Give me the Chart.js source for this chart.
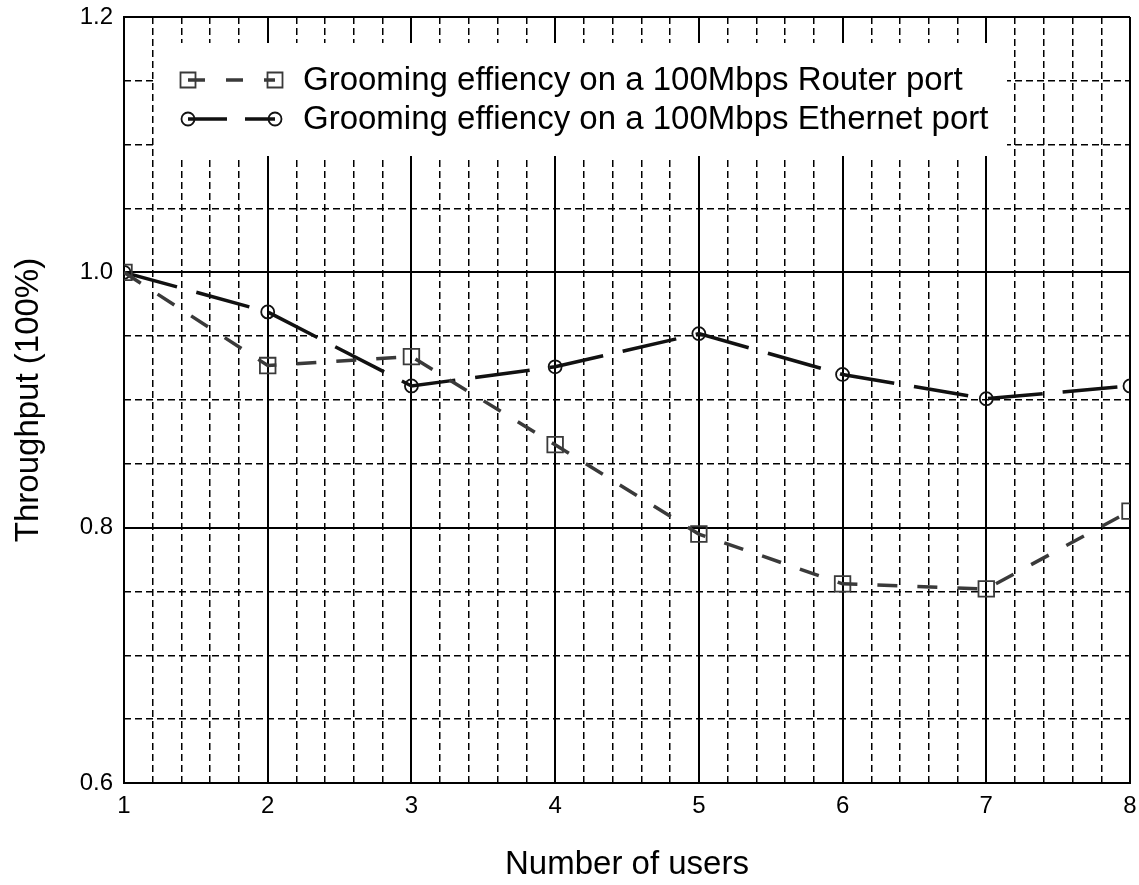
<!DOCTYPE html>
<html>
<head>
<meta charset="utf-8">
<script src="https://cdn.jsdelivr.net/npm/chart.js@4.4.1/dist/chart.umd.min.js"></script>
<style>
  html, body { margin: 0; padding: 0; background: #fff; }
  #wrap { width: 1139px; height: 885px; }
</style>
</head>
<body>
<div id="wrap"><canvas id="chart" width="1139" height="885"></canvas></div>
<script>
// data
var users = [1, 2, 3, 4, 5, 6, 7, 8];
var routerPort = [1.0, 0.927, 0.934, 0.865, 0.795, 0.756, 0.752, 0.813];
var ethernetPort = [1.0, 0.969, 0.911, 0.926, 0.952, 0.920, 0.901, 0.911];
var seriesNames = [
    'Grooming effiency on a 100Mbps Router port',
    'Grooming effiency on a 100Mbps Ethernet port'
];
var yTicks = [0.6, 0.8, 1.0, 1.2];

var FONT = "'Liberation Sans', Arial, sans-serif";

function toPoints(xs, ys) {
    return xs.map(function (x, i) { return { x: x, y: ys[i] }; });
}

// white legend box drawn inside the plot, like the original
var boxLegend = {
    id: 'boxLegend',
    beforeDatasetsDraw: function (chart) {
        var ctx = chart.ctx;
        var a = chart.chartArea;
        var x0 = a.left + 31, y0 = a.top + 26;
        ctx.save();
        ctx.fillStyle = '#ffffff';
        ctx.fillRect(x0, y0, 852, 113);

        var rows = [
            { y: y0 + 37, color: '#3a3a3a', dash: [17, 21], style: 'rect' },
            { y: y0 + 76, color: '#111111', dash: [39, 18], style: 'circle' }
        ];
        rows.forEach(function (r, i) {
            var xa = x0 + 33, xb = x0 + 120;
            ctx.strokeStyle = r.color;
            ctx.lineWidth = 3.5;
            ctx.setLineDash(r.dash);
            ctx.beginPath();
            ctx.moveTo(xa, r.y);
            ctx.lineTo(xb, r.y);
            ctx.stroke();
            ctx.setLineDash([]);
            ctx.lineWidth = 1.8;
            [xa, xb].forEach(function (px) {
                ctx.beginPath();
                if (r.style === 'rect') {
                    ctx.rect(px - 7.5, r.y - 7.5, 15, 15);
                } else {
                    ctx.arc(px, r.y, 6.5, 0, Math.PI * 2);
                }
                ctx.stroke();
            });
            ctx.fillStyle = '#000';
            ctx.font = '33px ' + FONT;
            ctx.textBaseline = 'middle';
            ctx.textAlign = 'left';
            ctx.fillText(seriesNames[i], x0 + 148, r.y + 1);
        });
        ctx.restore();
    }
};

function onMajor(v, step) {
    var k = v / step;
    return Math.abs(k - Math.round(k)) < 1e-6;
}

// fixed axis sizes, no extra room for overhanging labels
function fixSize(w, h) {
    return function (s) {
        if (w !== null) s.width = w;
        if (h !== null) s.height = h;
        s.paddingTop = 0;
        s.paddingBottom = 0;
        s.paddingLeft = 0;
        s.paddingRight = 0;
    };
}

var ctx = document.getElementById('chart').getContext('2d');
new Chart(ctx, {
    type: 'line',
    data: {
        datasets: [{
            label: seriesNames[0],
            data: toPoints(users, routerPort),
            xAxisID: 'x',
            yAxisID: 'y',
            borderColor: '#3a3a3a',
            borderWidth: 3.5,
            borderDash: [20, 20],
            pointStyle: 'rect',
            pointRadius: 11,
            pointBorderWidth: 1.8,
            pointBorderColor: '#3a3a3a',
            pointBackgroundColor: 'rgba(0,0,0,0)',
            tension: 0,
            clip: 0
        }, {
            label: seriesNames[1],
            data: toPoints(users, ethernetPort),
            xAxisID: 'x',
            yAxisID: 'y',
            borderColor: '#111111',
            borderWidth: 3.5,
            borderDash: [55, 20],
            pointStyle: 'circle',
            pointRadius: 6.5,
            pointBorderWidth: 1.8,
            pointBorderColor: '#111111',
            pointBackgroundColor: 'rgba(0,0,0,0)',
            tension: 0,
            clip: 0
        }]
    },
    options: {
        responsive: false,
        animation: false,
        layout: { autoPadding: false, padding: { left: 0, top: 17, right: 9, bottom: 0 } },
        plugins: {
            legend: { display: false },
            tooltip: { enabled: false }
        },
        scales: {
            // minor dashed grid
            xMinor: {
                type: 'linear',
                position: 'bottom',
                min: 1, max: 8,
                afterFit: fixSize(null, 0),
                ticks: { display: false, stepSize: 0.2, autoSkip: false, maxTicksLimit: 100 },
                grid: {
                    z: -1,
                    drawTicks: false,
                    lineWidth: 1.5,
                    color: function (c) { return onMajor(c.tick.value, 1) ? 'rgba(0,0,0,0)' : '#000'; }
                },
                border: { display: false, dash: [7, 4] }
            },
            yMinor: {
                type: 'linear',
                position: 'left',
                min: 0.6, max: 1.2,
                afterFit: fixSize(0, null),
                ticks: { display: false, stepSize: 0.05, autoSkip: false, maxTicksLimit: 100 },
                grid: {
                    z: -1,
                    drawTicks: false,
                    lineWidth: 1.5,
                    color: function (c) { return onMajor(c.tick.value, 0.2) ? 'rgba(0,0,0,0)' : '#000'; }
                },
                border: { display: false, dash: [7, 4] }
            },
            x: {
                type: 'linear',
                position: 'bottom',
                min: 1, max: 8,
                afterFit: fixSize(null, 102),
                ticks: {
                    stepSize: 1,
                    color: '#000',
                    padding: 9,
                    font: { family: FONT, size: 24 }
                },
                grid: { color: '#000', lineWidth: 2, drawTicks: false },
                border: { display: true, color: '#000', width: 2 },
                title: {
                    display: true,
                    text: 'Number of users',
                    color: '#000',
                    font: { family: FONT, size: 33 },
                    padding: { top: 0, bottom: 0 }
                }
            },
            y: {
                type: 'linear',
                position: 'left',
                min: 0.6, max: 1.2,
                afterFit: fixSize(124, null),
                afterBuildTicks: function (s) {
                    s.ticks = yTicks.map(function (v) { return { value: v }; });
                },
                ticks: {
                    color: '#000',
                    padding: 11,
                    font: { family: FONT, size: 24 },
                    callback: function (v) { return Number(v).toFixed(1); }
                },
                grid: { color: '#000', lineWidth: 2, drawTicks: false },
                border: { display: true, color: '#000', width: 2 },
                title: {
                    display: true,
                    text: 'Throughput (100%)',
                    color: '#000',
                    font: { family: FONT, size: 33 },
                    padding: { top: 9, bottom: 0 }
                }
            }
        }
    },
    plugins: [boxLegend]
});
</script>
</body>
</html>
